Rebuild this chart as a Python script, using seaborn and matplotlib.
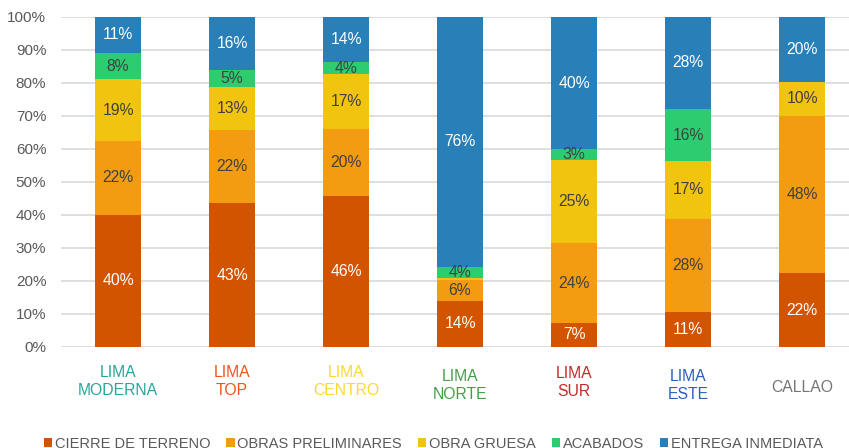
import matplotlib
matplotlib.use("Agg")
import matplotlib.pyplot as plt
import seaborn as sns
import numpy as np
import pandas as pd
from matplotlib.patches import Patch

categories = ["LIMA\nMODERNA", "LIMA\nTOP", "LIMA\nCENTRO", "LIMA\nNORTE", "LIMA\nSUR", "LIMA\nESTE", "CALLAO"]
series_names = ["CIERRE DE TERRENO", "OBRAS PRELIMINARES", "OBRA GRUESA", "ACABADOS", "ENTREGA INMEDIATA"]

cierre_terreno = [40.0, 43.4, 45.6, 13.9, 7.1, 10.6, 22.2]
obras_preliminares = [22.4, 22.2, 20.3, 6.4, 24.2, 28.2, 47.7]
obra_gruesa = [18.6, 13.1, 16.6, 0.4, 25.3, 17.4, 10.4]
acabados = [8.1, 5.0, 3.9, 3.6, 3.2, 15.9, 0.0]
entrega_inmediata = [10.9, 16.3, 13.6, 75.7, 40.2, 27.9, 19.7]

series_values = [cierre_terreno, obras_preliminares, obra_gruesa, acabados, entrega_inmediata]
series_colors = ["#D35400", "#F39C12", "#F1C40F", "#2ECC71", "#2980B9"]
label_colors = ["white", "#404040", "#404040", "#404040", "white"]
tick_colors = ["#26A69A", "#F4511E", "#FDD835", "#43A047", "#C62828", "#2B5EBF", "#757575"]
tick_ypix = [381, 381, 381, 385.5, 382, 385.5, 387.5]
ytick_labels = [f"{v}%" for v in range(0, 101, 10)]

sns.set_theme(style="whitegrid")
plt.rcParams["font.family"] = ["Liberation Sans", "DejaVu Sans"]

W, H = 849, 448
fig = plt.figure(figsize=(W / 100, H / 100), dpi=100)
ax_left, ax_right_px = 61, 859
ax_top, ax_bot = 16.7, 346.7
ax = fig.add_axes([ax_left / W, (H - ax_bot) / H, (ax_right_px - ax_left) / W, (ax_bot - ax_top) / H])

bottom = np.zeros(len(categories))
for name, vals, col, lcol in zip(series_names, series_values, series_colors, label_colors):
    vals = np.array(vals, dtype=float) / 100.0
    df = pd.DataFrame({"cat": categories, "val": vals})
    sns.barplot(data=df, x="cat", y="val", order=categories, color=col, width=0.395,
                bottom=bottom, ax=ax, saturation=1, edgecolor="none", linewidth=0)
    for i, v in enumerate(vals):
        if v * 100 >= 1:
            ax.text(i, bottom[i] + v / 2, f"{v * 100:.0f}%", ha="center", va="center",
                    color=lcol, fontsize=11.3)
    bottom = bottom + vals

ax.set_xlim(-0.5, 6.5)
ax.set_ylim(0, 1)
ax.set_yticks(np.arange(0, 1.01, 0.1))
ax.set_yticklabels(ytick_labels, color="#595959", fontsize=11)
ax.tick_params(axis="y", pad=10.6, length=0)
ax.set_xticks(range(len(categories)))
ax.set_xticklabels([])
ax.tick_params(axis="x", length=0)
ax.set_xlabel("")
ax.set_ylabel("")
ax.grid(axis="y", color="#D9D9D9", linewidth=1.2)
ax.grid(axis="x", visible=False)
ax.set_axisbelow(True)
for s in ax.spines.values():
    s.set_visible(False)

for i, (lab, c, yp) in enumerate(zip(categories, tick_colors, tick_ypix)):
    ax.text(i, (ax_bot - yp) / (ax_bot - ax_top), lab, ha="center", va="center",
            color=c, fontsize=11.3, transform=ax.get_xaxis_transform(), linespacing=1.25,
            clip_on=False)

handles = [Patch(facecolor=c, edgecolor="none", label=n) for n, c in zip(series_names, series_colors)]
fig.legend(handles=handles, loc="center left", bbox_to_anchor=(44 / W, 1 - 443.5 / H),
           ncol=5, frameon=False, fontsize=10.5, handlelength=0.55, handleheight=0.55,
           handletextpad=0.2, columnspacing=1.1, borderpad=0, borderaxespad=0,
           labelcolor="#595959")

fig.savefig("out.png", dpi=100)
